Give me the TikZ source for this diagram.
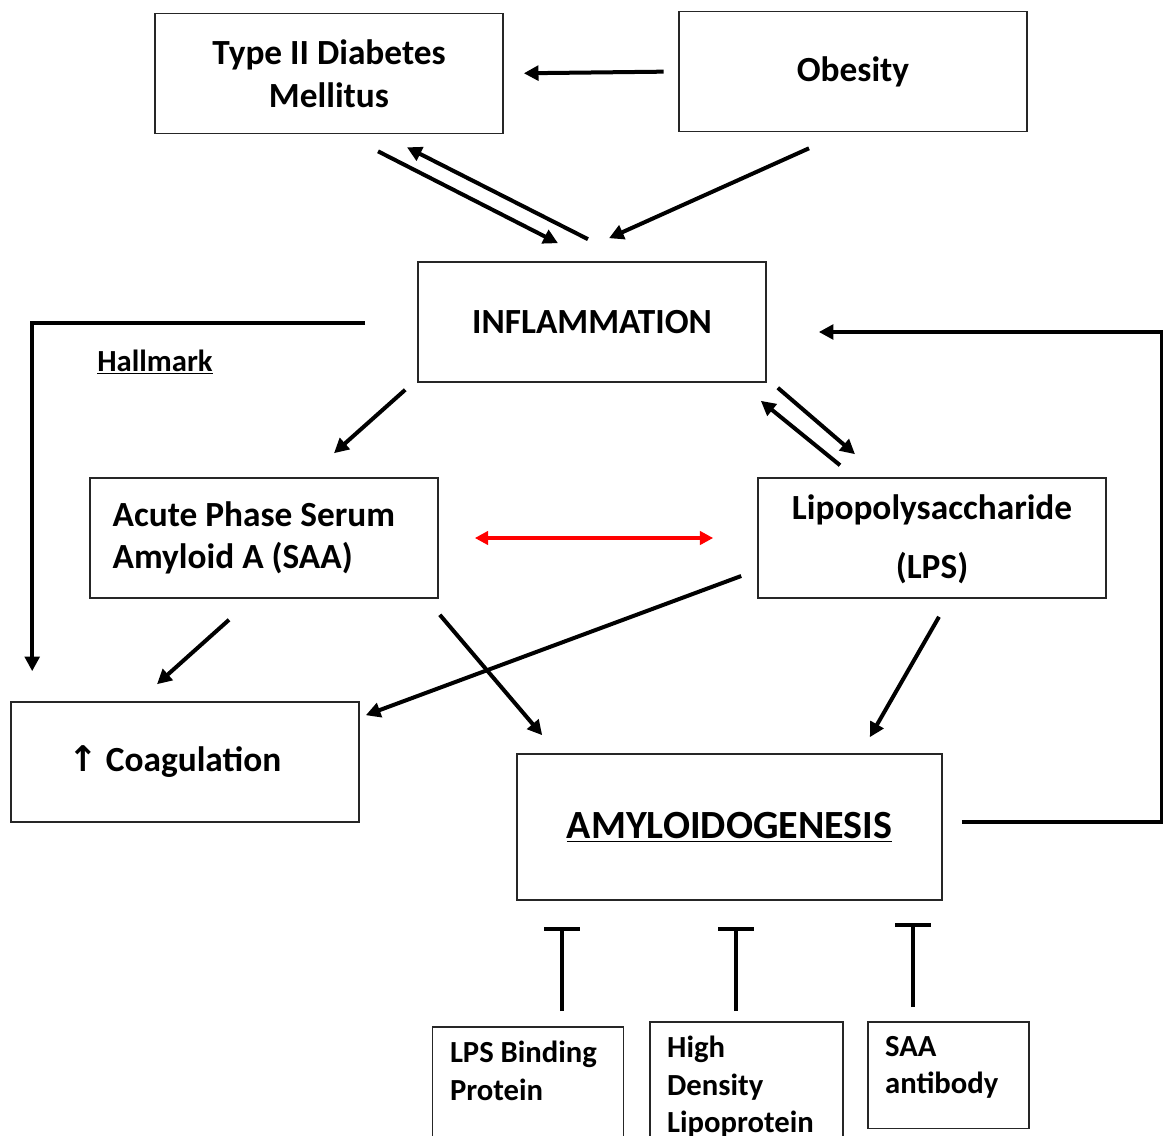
\documentclass[tikz,border=0pt]{standalone}
\usepackage{fontspec}
\setmainfont{Carlito}
\newfontfamily\symfont{DejaVu Sans}
\usetikzlibrary{arrows.meta,calc}

\tikzset{every picture/.style={line width=0.75pt}}
\tikzset{
  box/.style={draw=black!85, line width=1.2pt, minimum width=261pt, minimum height=90pt,
    align=center, font=\fontsize{26.5}{32}\selectfont\bfseries},
  smallbox/.style={draw=black!85, line width=1.2pt, anchor=north, align=flush left,
    inner xsep=13pt, inner ysep=11pt, font=\fontsize{23}{28}\selectfont\bfseries},
  arr/.style={line width=3pt, -{Triangle[length=11pt,width=11pt]}},
  redarr/.style={line width=3pt, red, {Triangle[length=10pt,width=10pt]}-{Triangle[length=10pt,width=10pt]}},
  inh/.style={line width=3pt, -{Bar[width=27pt]}},
}

\begin{document}
\begin{tikzpicture}[x=0.75pt,y=0.75pt,yscale=-1,xscale=1]
\useasboundingbox (0,0) rectangle (1163,1135);

% Text Node
\node[box] (t2dm) at (329,73.5) {Type II Diabetes\\Mellitus};
% Text Node
\node[box] (obesity) at (853,71.5) {Obesity};
% Text Node
\node[box] (inflam) at (592,322) {INFLAMMATION};
% Text Node
\node[box, align=flush left, text width=227pt, inner xsep=17pt] (saa) at (264,538) {Acute Phase Serum\\Amyloid A (SAA)};
% Text Node
\node[box, text depth=2pt] (lps) at (932,538) {Lipopolysaccharide\\[12pt](LPS)};
% Text Node
\node[box, align=flush left, text width=175pt, inner xsep=43pt] (coag) at (185,762) {{\symfont ↑} Coagulation};
% Text Node
\node[box, minimum width=318.75pt, minimum height=109.5pt, font=\fontsize{30}{36}\selectfont\bfseries] (amyloid) at (729.5,827) {\underline{AMYLOIDOGENESIS}};
% Text Node
\node[font=\fontsize{23}{28}\selectfont\bfseries] (hallmark) at (155,362) {\underline{Hallmark}};
% Text Node
\node[smallbox, text width=117pt, text depth=75pt] (lbp) at (528,1026) {LPS Binding\\Protein};
% Text Node
\node[smallbox, text width=119pt, text depth=75pt] (hdl) at (746.5,1021) {High\\Density\\Lipoprotein};
% Text Node
\node[smallbox, text width=95pt, text depth=43pt] (saaab) at (948.5,1021) {SAA\\antibody};

% Connection
\draw[arr, shorten <=11pt, shorten >=15pt] (obesity.west) -- (t2dm.east);
% Connection
\draw[arr] ($(t2dm.south)+(49,17)$) -- ($(inflam.north)+(-34,-18)$);
\draw[arr] ($(inflam.north)+(-4,-22)$) -- ($(t2dm.south)+(78,13)$);
% Connection
\draw[arr] ($(obesity.south)+(-44,16)$) -- ($(inflam.north)+(17,-23)$);
% Connection
\draw[arr] ($(inflam.south west)+(-12,7)$) -- ($(saa.north)+(70,-24)$);
% Connection
\draw[arr] ($(inflam.south east)+(11,5)$) -- ($(lps.north)+(-77,-23)$);
\draw[arr] ($(lps.north)+(-92,-12)$) -- ($(inflam.south east)+(-6,18)$);
% Connection
\draw[redarr, shorten <=27pt, shorten >=33pt] (saa.east) -- (lps.west);
% Connection
\draw[arr] ($(inflam.west)+(-52,1)$) -| ($(coag.north west)+(22,-30)$);
% Connection
\draw[arr] ($(saa.south)+(-35,21)$) -- ($(coag.north)+(-28,-17)$);
% Connection
\draw[arr] ($(lps.west)+(-16,38)$) -- ($(coag.north east)+(6,14)$);
% Connection
\draw[arr] ($(saa.south east)+(1,16)$) -- ($(amyloid.north west)+(26,-18)$);
% Connection
\draw[arr] ($(lps.south)+(7,18)$) -- ($(amyloid.north east)+(-73,-16)$);
% Connection
\draw[arr] ($(amyloid.east)+(19,-5)$) -- ++(200,0) |- ($(inflam.east)+(52,10)$);
% Connection
\draw[inh] ($(lbp.north)+(34,-15)$) -- ($(amyloid.south)+(-167.5,26)$);
\draw[inh] ($(hdl.north)+(-10.5,-10)$) -- ($(amyloid.south)+(6.5,26)$);
\draw[inh] ($(saaab.north)+(-35.5,-14)$) -- ($(amyloid.south)+(183.5,22)$);

\end{tikzpicture}
\end{document}
